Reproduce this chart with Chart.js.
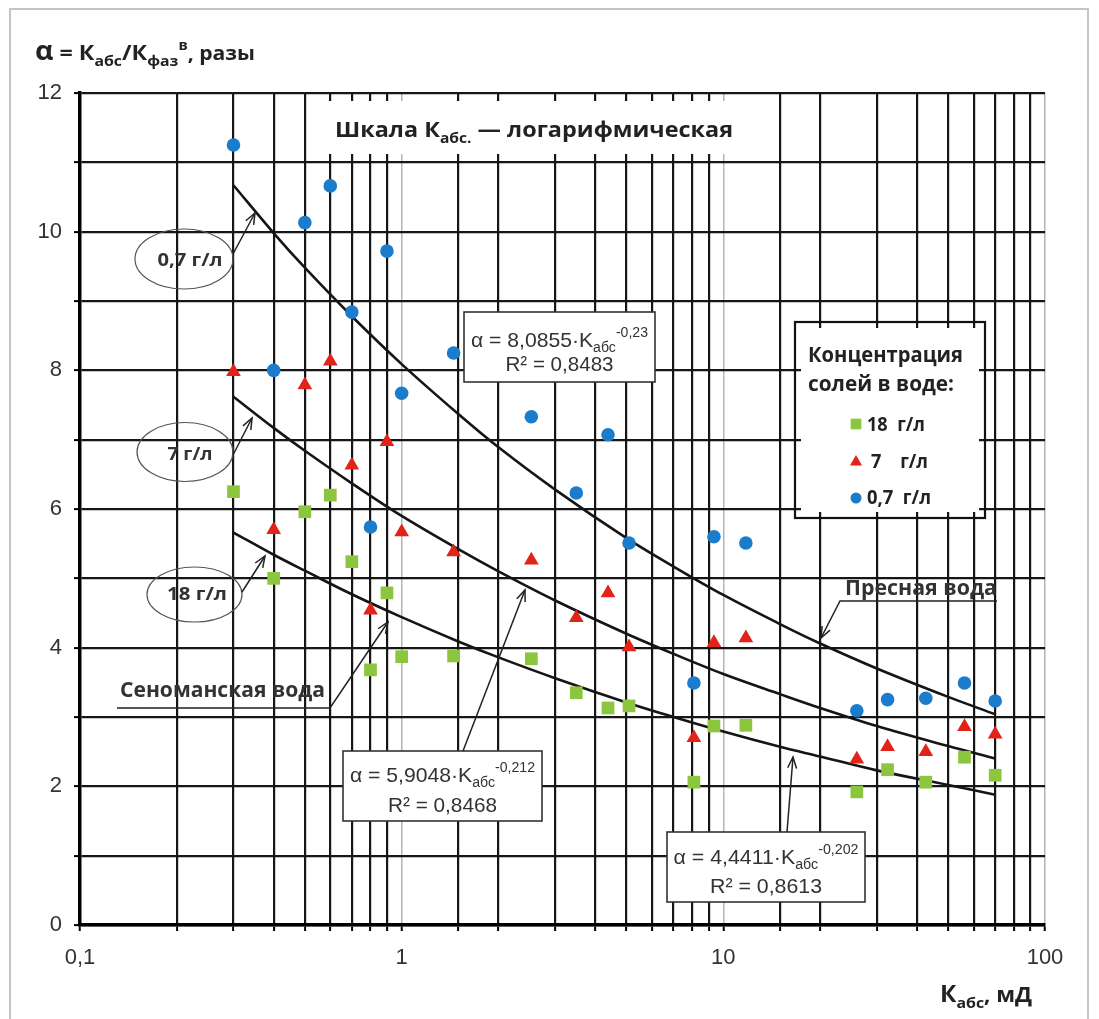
<!DOCTYPE html>
<html><head><meta charset="utf-8">
<script src="https://cdn.jsdelivr.net/npm/chart.js@4.4.1/dist/chart.umd.min.js"></script>
<style>html,body{margin:0;padding:0;background:#fff}canvas{display:block}</style>
</head><body>
<canvas id="c" width="1099" height="1019"></canvas>
<script>
// ---- data ----
const permeability = [0.3,0.4,0.5,0.6,0.7,0.8,0.9,1.0,1.45,2.53,3.49,4.38,5.09,8.1,9.35,11.75,26,32.4,42.6,56.2,70];
const alpha07 = [11.25,8.0,10.13,10.66,8.84,5.74,9.72,7.67,8.25,7.33,6.23,7.07,5.51,3.49,5.60,5.51,3.09,3.25,3.27,3.49,3.23];
const alpha7  = [7.98,5.70,7.79,8.13,6.63,4.54,6.97,5.67,5.38,5.26,4.43,4.79,4.01,2.70,4.07,4.14,2.39,2.57,2.50,2.86,2.75];
const alpha18 = [6.25,5.00,5.96,6.20,5.24,3.68,4.79,3.87,3.88,3.84,3.35,3.13,3.16,2.06,2.87,2.88,1.92,2.24,2.06,2.42,2.16];
const trendX      = [0.3,0.4,0.5,0.7,1,1.5,2,3,5,7,10,15,20,30,50,70];
const trendFresh  = [10.67,9.98,9.48,8.78,8.09,7.37,6.89,6.28,5.58,5.17,4.76,4.34,4.06,3.70,3.29,3.04];
const trend7      = [7.62,7.17,6.84,6.37,5.90,5.42,5.10,4.68,4.20,3.91,3.62,3.33,3.13,2.87,2.58,2.40];
const trend18     = [5.66,5.34,5.11,4.77,4.44,4.09,3.86,3.56,3.21,3.00,2.79,2.57,2.43,2.23,2.02,1.88];
const xTickLabels = {'-1':'0,1','0':'1','1':'10','2':'100'};
const yTickLabels = {0:'0',2:'2',4:'4',6:'6',8:'8',10:'10',12:'12'};
const seriesNames = ['18  г/л','7    г/л','0,7  г/л'];

const C_GREEN='#8cc63f', C_RED='#e2231a', C_BLUE='#1b7ccc';
const BOLD="'Open Sans'", REG="'Liberation Sans'";

function isMajor(v){const l=Math.log10(v);return Math.abs(l-Math.round(l))<1e-6;}
function pts(ys,xs){return xs.map((x,i)=>({x:x,y:ys[i]}));}

// rich text: parts = [text,size,weight,dy,family]
function rich(ctx,x,y,parts,opt){
  opt=opt||{};
  const fam=opt.family||REG;
  let w=0;
  parts.forEach(p=>{ctx.font=(p[2]||'normal')+' '+p[1]+'px '+(p[4]||fam);w+=ctx.measureText(p[0]).width;});
  const sx=opt.width? opt.width/w : 1;
  const tw=w*sx;
  let x0=opt.align==='center'? x-tw/2 : opt.align==='right'? x-tw : x;
  ctx.save();
  ctx.fillStyle=opt.color||'#222';
  ctx.textBaseline='alphabetic';ctx.textAlign='left';
  ctx.translate(x0,y);ctx.scale(sx,1);
  let cx=0;
  parts.forEach(p=>{ctx.font=(p[2]||'normal')+' '+p[1]+'px '+(p[4]||fam);ctx.fillText(p[0],cx,(p[3]||0));cx+=ctx.measureText(p[0]).width;});
  ctx.restore();
}
function arrow(ctx,pts,color,lw){
  ctx.save();ctx.strokeStyle=color||'#222';ctx.lineWidth=lw||1.5;
  ctx.beginPath();ctx.moveTo(pts[0][0],pts[0][1]);
  for(let i=1;i<pts.length;i++)ctx.lineTo(pts[i][0],pts[i][1]);
  ctx.stroke();
  const a=pts[pts.length-2],b=pts[pts.length-1];
  const ang=Math.atan2(b[1]-a[1],b[0]-a[0]);const L=12,s=0.38;
  ctx.beginPath();
  ctx.moveTo(b[0]-L*Math.cos(ang-s),b[1]-L*Math.sin(ang-s));
  ctx.lineTo(b[0],b[1]);
  ctx.lineTo(b[0]-L*Math.cos(ang+s),b[1]-L*Math.sin(ang+s));
  ctx.stroke();ctx.restore();
}
function eqBox(ctx,x,y,w,h,coef,pow,r2,b1,b2,w1,w2){
  ctx.save();ctx.fillStyle='#fff';ctx.fillRect(x,y,w,h);
  ctx.strokeStyle='#333';ctx.lineWidth=1.6;ctx.strokeRect(x,y,w,h);ctx.restore();
  const cx=x+w/2;
  rich(ctx,cx,b1,[['α = '+coef+'·K',21],['абс',14,'normal',5],[pow,14,'normal',-10]],{align:'center',width:w1,color:'#333'});
  rich(ctx,cx,b2,[['R² = '+r2,21]],{align:'center',width:w2,color:'#333'});
}

const overlay={
  id:'overlay',
  beforeDraw(chart){
    const c=chart.ctx;c.save();c.fillStyle='#fff';c.fillRect(0,0,chart.width,chart.height);
    c.strokeStyle='#c4c4c4';c.lineWidth=2;c.strokeRect(10,9,1078,1040);c.restore();
  },
  beforeDatasetsDraw(chart){
    const c=chart.ctx;
    c.save();c.fillStyle='#fff';
    c.fillRect(308,101,452,53);
    c.fillRect(801,328,178,184);
    c.strokeStyle='#111';c.lineWidth=2.2;c.strokeRect(795,322,190,196);
    c.restore();
    rich(c,335,137,[['Шкала К',21,'bold',0,BOLD],['абс.',14,'bold',6,BOLD],[' — логарифмическая',21,'bold',0,BOLD]],{width:398,color:'#222'});
    rich(c,808,362,[['Концентрация',21,'bold',0,BOLD]],{width:155,color:'#222'});
    rich(c,808,391,[['солей в воде:',21,'bold',0,BOLD]],{width:146,color:'#222'});
    const H=Chart.helpers;
    c.save();
    c.fillStyle=C_GREEN;c.strokeStyle=C_GREEN;H.drawPoint(c,{pointStyle:'rect',radius:7.5,borderWidth:0},856,424);
    c.fillStyle=C_RED;c.strokeStyle=C_RED;H.drawPoint(c,{pointStyle:'triangle',radius:7,borderWidth:0},856,462);
    c.fillStyle=C_BLUE;c.strokeStyle=C_BLUE;H.drawPoint(c,{pointStyle:'circle',radius:5.5,borderWidth:0},856,498);
    c.restore();
    rich(c,867,431,[[seriesNames[0],19,'bold',0,BOLD]],{width:58,color:'#222'});
    rich(c,871,468,[[seriesNames[1],19,'bold',0,BOLD]],{width:57,color:'#222'});
    rich(c,867,504,[[seriesNames[2],19,'bold',0,BOLD]],{width:64,color:'#222'});
    eqBox(c,464,312,191,70,'8,0855','-0,23','0,8483',347,371,177,108);
    eqBox(c,343,751,199,70,'5,9048','-0,212','0,8468',782,812,185,109);
    eqBox(c,667,832,198,70,'4,4411','-0,202','0,8613',864,893,185,112);
  },
  afterDatasetsDraw(chart){
    const c=chart.ctx;
    c.save();c.strokeStyle='#555';c.lineWidth=1.2;
    [[184,259,49,30],[185,452,48,29.5],[194.5,594.5,47.5,27.5]].forEach(e=>{c.beginPath();c.ellipse(e[0],e[1],e[2],e[3],0,0,Math.PI*2);c.stroke();});
    c.restore();
    rich(c,190,266,[['0,7 г/л',18,'bold',0,BOLD]],{align:'center',width:65,color:'#333'});
    rich(c,190,460,[['7 г/л',18,'bold',0,BOLD]],{align:'center',width:45,color:'#333'});
    rich(c,197,600,[['18 г/л',18,'bold',0,BOLD]],{align:'center',width:60,color:'#333'});
    arrow(c,[[233,254],[255,213]]);
    arrow(c,[[233,455],[252,418]]);
    arrow(c,[[242,592],[265,556]]);
    rich(c,120,697,[['Сеноманская вода',21,'bold',0,BOLD]],{width:205,color:'#333'});
    arrow(c,[[117,708],[330,708],[388,622]]);
    rich(c,845,595,[['Пресная вода',21,'bold',0,BOLD]],{width:152,color:'#333'});
    arrow(c,[[997,601],[840,601],[821,638]]);
    arrow(c,[[463,751],[525,590]]);
    arrow(c,[[787,832],[793,757]]);
    rich(c,35,60,[['α',27,'bold',0,BOLD],[' = К',22,'bold',0,BOLD],['абс',15,'bold',6,BOLD],['/К',22,'bold',0,BOLD],['фаз',15,'bold',6,BOLD],['в',14,'bold',-10,BOLD],[', разы',20,'bold',0,BOLD]],{width:220,color:'#222'});
    rich(c,940,1002,[['К',23,'bold',0,BOLD],['абс',15,'bold',6,BOLD],[', мД',21,'bold',0,BOLD]],{width:92,color:'#222'});
  }
};

new Chart(document.getElementById('c'),{
  type:'scatter',
  data:{datasets:[
    {label:seriesNames[2],data:pts(alpha07,permeability),pointStyle:'circle',pointRadius:6.8,backgroundColor:C_BLUE,borderWidth:0,order:1},
    {label:seriesNames[1],data:pts(alpha7,permeability),pointStyle:'triangle',pointRadius:8.5,backgroundColor:C_RED,borderWidth:0,order:1},
    {label:seriesNames[0],data:pts(alpha18,permeability),pointStyle:'rect',pointRadius:9,backgroundColor:C_GREEN,borderWidth:0,order:1},
    {label:'fresh',data:pts(trendFresh,trendX),showLine:true,pointRadius:0,borderColor:'#151515',borderWidth:2.6,tension:0.35,order:2},
    {label:'7',data:pts(trend7,trendX),showLine:true,pointRadius:0,borderColor:'#151515',borderWidth:2.6,tension:0.35,order:2},
    {label:'18',data:pts(trend18,trendX),showLine:true,pointRadius:0,borderColor:'#151515',borderWidth:2.6,tension:0.35,order:2}
  ]},
  options:{
    responsive:false,animation:false,events:[],
    layout:{padding:{left:0,top:93,right:54,bottom:0}},
    plugins:{legend:{display:false},tooltip:{enabled:false}},
    scales:{
      x:{type:'logarithmic',min:0.1,max:100,
        afterFit(s){s.height=94;},
        grid:{color:c=>isMajor(c.tick.value)?'#b4b4b4':'#161616',lineWidth:c=>isMajor(c.tick.value)?1.5:2.2,tickColor:'#000',tickLength:6,tickWidth:2},
        border:{display:true,color:'#000',width:3.5},
        ticks:{autoSkip:false,maxRotation:0,padding:14,color:'#333',font:{family:'Liberation Sans',size:22},
          callback:function(v){return isMajor(v)? xTickLabels[String(Math.round(Math.log10(v)))]:'';}}
      },
      y:{min:0,max:12,
        afterFit(s){s.width=80;},
        grid:{color:'#161616',lineWidth:2.2,tickColor:'#000',tickLength:6,tickWidth:2},
        border:{display:true,color:'#000',width:3.5},
        ticks:{stepSize:1,padding:12,color:'#333',font:{family:'Liberation Sans',size:22},
          callback:v=>yTickLabels[v]!==undefined?yTickLabels[v]:''}
      }
    }
  },
  plugins:[overlay]
});
</script>
</body></html>
